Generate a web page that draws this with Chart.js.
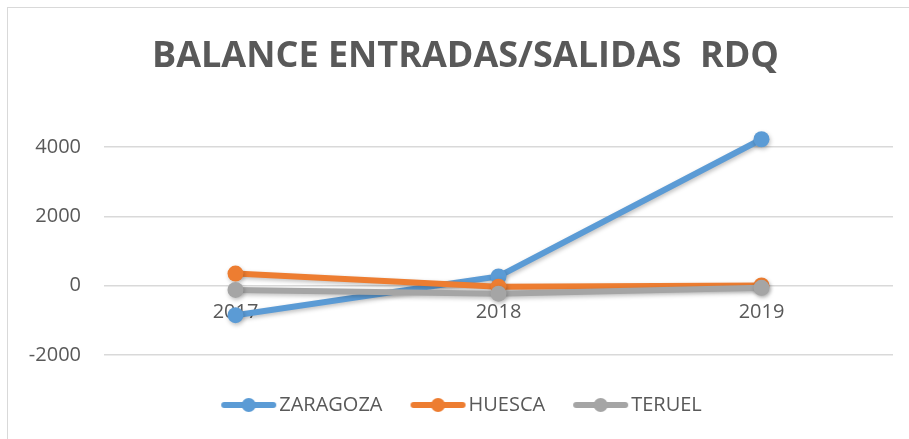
<!DOCTYPE html>
<html>
<head>
<meta charset="utf-8">
<script src="https://cdn.jsdelivr.net/npm/chart.js@4/dist/chart.umd.min.js"></script>
<style>
    html, body { margin: 0; padding: 0; background: #fff; }
    #wrap { position: relative; width: 909px; height: 439px; overflow: hidden; }
    #frame { position: absolute; left: 7px; top: 7px; width: 920px; height: 450px; border: 1px solid #d9d9d9; box-sizing: border-box; pointer-events: none; }
    canvas { position: absolute; left: 0; top: 0; }
</style>
</head>
<body>
<div id="wrap">
    <canvas id="chart" width="909" height="439"></canvas>
    <div id="frame"></div>
</div>
<script>
// Datos
const years = ['2017', '2018', '2019'];
const zaragoza = [-850, 270, 4230];
const huesca = [350, -30, 10];
const teruel = [-120, -230, -60];
const yTicks = [-2000, 0, 2000, 4000];

const seriesNames = ['ZARAGOZA', 'HUESCA', 'TERUEL'];
const seriesColors = ['#5B9BD5', '#ED7D31', '#A5A5A5'];
const textColor = '#595959';

// Icono de leyenda: línea con círculo (desplazado a la derecha para pegar el texto)
function legendIcon(color) {
    const c = document.createElement('canvas');
    c.width = 74;
    c.height = 18;
    const g = c.getContext('2d');
    g.strokeStyle = color;
    g.lineWidth = 6;
    g.lineCap = 'round';
    g.beginPath();
    g.moveTo(21, 9);
    g.lineTo(70, 9);
    g.stroke();
    g.fillStyle = color;
    g.beginPath();
    g.arc(45.5, 9, 7, 0, Math.PI * 2);
    g.fill();
    return c;
}

// Sombra suave como en Excel
const shadowPlugin = {
    id: 'shadow',
    beforeDatasetsDraw(chart) {
        const ctx = chart.ctx;
        ctx.save();
        ctx.shadowColor = 'rgba(0,0,0,0.25)';
        ctx.shadowBlur = 4;
        ctx.shadowOffsetX = 1;
        ctx.shadowOffsetY = 2;
    },
    afterDatasetsDraw(chart) {
        chart.ctx.restore();
    }
};

// El título del original está algo desplazado a la derecha
const titleShift = {
    id: 'titleShift',
    afterLayout(chart) {
        if (chart.titleBlock) chart.titleBlock.left += 18;
    }
};

function makeDataset(i, values, order) {
    return {
        label: seriesNames[i],
        data: values,
        borderColor: seriesColors[i],
        backgroundColor: seriesColors[i],
        borderWidth: 6,
        pointRadius: 8,
        pointHoverRadius: 8,
        pointBorderWidth: 0,
        tension: 0,
        clip: false,
        order: order
    };
}

const ctx = document.getElementById('chart').getContext('2d');
new Chart(ctx, {
    type: 'line',
    data: {
        labels: years,
        datasets: [
            makeDataset(0, zaragoza, 3),
            makeDataset(1, huesca, 2),
            makeDataset(2, teruel, 1)
        ]
    },
    plugins: [shadowPlugin, titleShift],
    options: {
        responsive: false,
        animation: false,
        layout: {
            padding: { left: 20, right: 16, top: 30, bottom: 14 }
        },
        scales: {
            x: {
                position: { y: 0 },
                offset: true,
                grid: { display: false, drawTicks: false },
                border: { display: false },
                ticks: {
                    color: textColor,
                    padding: 15,
                    font: { family: "'Open Sans', sans-serif", size: 20 }
                }
            },
            y: {
                min: -2000,
                max: 4000,
                afterBuildTicks(scale) {
                    scale.ticks = yTicks.map(v => ({ value: v }));
                },
                afterFit(scale) {
                    scale.width = 84;
                },
                grid: { color: '#d9d9d9', lineWidth: 1.5, drawTicks: false },
                border: { display: false },
                ticks: {
                    color: textColor,
                    padding: 23,
                    font: { family: "'Open Sans', sans-serif", size: 20 },
                    callback: v => String(v)
                }
            }
        },
        plugins: {
            title: {
                display: true,
                text: 'BALANCE ENTRADAS/SALIDAS  RDQ',
                color: textColor,
                font: { family: "'Open Sans', sans-serif", size: 36, weight: 'bold' },
                padding: { top: 5, bottom: 69 }
            },
            legend: {
                position: 'bottom',
                title: {
                    display: true,
                    text: '',
                    font: { size: 10 },
                    padding: { top: 10, bottom: 0 }
                },
                labels: {
                    color: textColor,
                    font: { family: "'Open Sans', sans-serif", size: 20 },
                    usePointStyle: true,
                    pointStyleWidth: 58,
                    padding: 18,
                    generateLabels(chart) {
                        return seriesNames.map((name, i) => ({
                            text: name,
                            fillStyle: seriesColors[i],
                            strokeStyle: seriesColors[i],
                            fontColor: textColor,
                            pointStyle: legendIcon(seriesColors[i]),
                            lineWidth: 0,
                            hidden: false,
                            datasetIndex: i
                        }));
                    }
                }
            },
            tooltip: { enabled: false }
        }
    }
});
</script>
</body>
</html>
